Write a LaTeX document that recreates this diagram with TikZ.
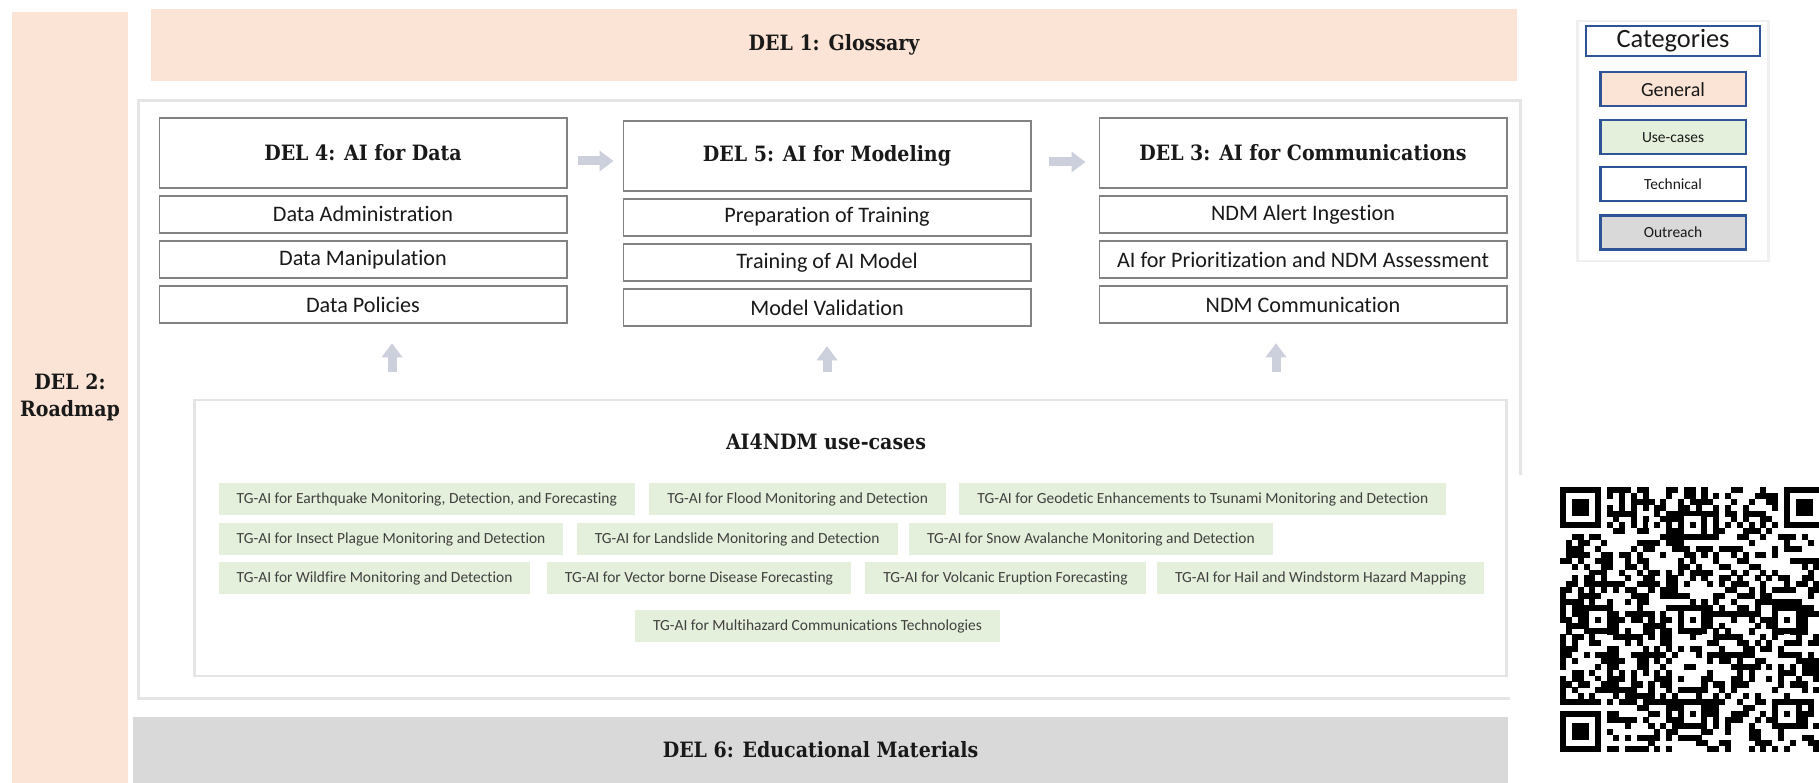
\documentclass[tikz,border=0pt]{standalone}
\usepackage{fontspec}
\setmainfont{Carlito}[Ligatures=NoCommon]
\newfontfamily\slabfont{DejaVu Serif Condensed}
\usetikzlibrary{arrows.meta, positioning}
\definecolor{peach}{RGB}{251,228,213}
\definecolor{usegreen}{RGB}{228,240,219}
\definecolor{outgray}{RGB}{217,217,217}
\definecolor{boxgray}{RGB}{130,130,130}
\definecolor{legblue}{RGB}{47,84,150}
\definecolor{faint}{RGB}{204,207,220}
\definecolor{dark}{RGB}{25,25,25}

\begin{document}
\begin{tikzpicture}[
    x=0.01cm, y=0.01cm,
    band/.style={rectangle, inner sep=0pt, text=dark, font=\slabfont\bfseries\fontsize{6}{7.5}\selectfont},
    hdr/.style={rectangle, draw=boxgray, line width=0.5pt, fill=white, minimum width=4.07cm, minimum height=0.70cm, inner sep=0pt, text=dark, font=\slabfont\bfseries\fontsize{6}{7}\selectfont},
    sub/.style={rectangle, draw=boxgray, line width=0.5pt, fill=white, minimum width=4.07cm, minimum height=0.37cm, inner sep=0pt, text=dark, font=\fontsize{6.3}{7}\selectfont},
    tag/.style={rectangle, fill=usegreen, minimum height=0.32cm, inner xsep=0.18cm, inner ysep=0pt, text=black!75, font=\fontsize{4.4}{5}\selectfont},
    leg/.style={rectangle, draw=legblue, line width=0.6pt, minimum width=1.45cm, minimum height=0.34cm, inner sep=0pt, text=dark, font=\fontsize{4.4}{5}\selectfont},
    frame/.style={rectangle, draw=gray!20, line width=0.8pt, inner sep=0pt},
    fatarr/.style={-{Triangle[length=0.14cm, width=0.2cm]}, line width=0.09cm, faint},
]
\useasboundingbox (0,0) rectangle (1819,-783);
\fill[white] (0,0) rectangle (1819,-783);

% General bands
\node[band, fill=peach, minimum width=1.16cm, minimum height=7.71cm, align=center] (del2) at (70,-397.5) {DEL 2:\\Roadmap};
\node[band, fill=peach, minimum width=13.66cm, minimum height=0.72cm] (del1) at (834,-45) {DEL 1: Glossary};
\node[frame, minimum width=13.81cm, minimum height=5.97cm] (main) at (829.5,-399.5) {};
\node[band, fill=outgray, minimum width=13.75cm, minimum height=0.66cm] (del6) at (820.5,-750) {DEL 6: Educational Materials};

% Technical deliverables
\node[hdr] (d4) at (363,-153) {DEL 4: AI for Data};
\node[sub, below=0.06cm of d4] (da) {Data Administration};
\node[sub, below=0.065cm of da] (dm) {Data Manipulation};
\node[sub, below=0.065cm of dm] (dp) {Data Policies};

\node[hdr] (d5) at (827,-156) {DEL 5: AI for Modeling};
\node[sub, below=0.06cm of d5] (pt) {Preparation of Training};
\node[sub, below=0.065cm of pt] (ta) {Training of AI Model};
\node[sub, below=0.065cm of ta] (mv) {Model Validation};

\node[hdr] (d3) at (1303,-153) {DEL 3: AI for Communications};
\node[sub, below=0.06cm of d3] (ai) {NDM Alert Ingestion};
\node[sub, below=0.065cm of ai] (pa) {AI for Prioritization and NDM Assessment};
\node[sub, below=0.065cm of pa] (nc) {NDM Communication};

% Use-cases
\node[frame, minimum width=13.11cm, minimum height=2.76cm] (uc) at (850.5,-538) {};
\node[band] (uctitle) at (826,-442) {AI4NDM use-cases};
\node[tag, anchor=west] (eq) at (218,-499) {TG-AI for Earthquake Monitoring, Detection, and Forecasting};
\node[tag, right=0.13cm of eq] (fl) {TG-AI for Flood Monitoring and Detection};
\node[tag, right=0.12cm of fl] (ge) {TG-AI for Geodetic Enhancements to Tsunami Monitoring and Detection};
\node[tag, anchor=west] (ip) at (218,-539) {TG-AI for Insect Plague Monitoring and Detection};
\node[tag, right=0.12cm of ip] (ls) {TG-AI for Landslide Monitoring and Detection};
\node[tag, right=0.1cm of ls] (sa) {TG-AI for Snow Avalanche Monitoring and Detection};
\node[tag, anchor=west] (wf) at (218,-578) {TG-AI for Wildfire Monitoring and Detection};
\node[tag, right=0.15cm of wf] (vb) {TG-AI for Vector borne Disease Forecasting};
\node[tag, right=0.13cm of vb] (ve) {TG-AI for Volcanic Eruption Forecasting};
\node[tag, right=0.1cm of ve] (hw) {TG-AI for Hail and Windstorm Hazard Mapping};
\node[tag] (mh) at (817.5,-626) {TG-AI for Multihazard Communications Technologies};

% Flow
\draw[fatarr, shorten <=0.1cm, shorten >=0.09cm] ([yshift=-0.08cm]d4.east) -- ([yshift=-0.08cm]d4.east -| d5.west);
\draw[fatarr, shorten <=0.17cm, shorten >=0.13cm] ([yshift=-0.06cm]d5.east) -- ([yshift=-0.06cm]d5.east -| d3.west);
\draw[fatarr, shorten <=0.26cm, shorten >=0.19cm] ([xshift=0.29cm]dp.south |- uc.north) -- ([xshift=0.29cm]dp.south);
\draw[fatarr, shorten <=0.26cm, shorten >=0.19cm] (mv.south |- uc.north) -- (mv.south);
\draw[fatarr, shorten <=0.26cm, shorten >=0.19cm] ([xshift=-0.27cm]nc.south |- uc.north) -- ([xshift=-0.27cm]nc.south);

% Legend
\node[frame, draw=gray!12, minimum width=1.91cm, minimum height=2.40cm] (legend) at (1673,-141) {};
\node[leg, minimum width=1.74cm, minimum height=0.30cm, font=\fontsize{7.5}{9}\selectfont] (cat) at (1673,-41) {Categories};
\node[leg, fill=peach, below=0.14cm of cat, font=\fontsize{5.7}{7}\selectfont] (gen) {General};
\node[leg, fill=usegreen, below=0.12cm of gen] (usec) {Use-cases};
\node[leg, fill=white, below=0.11cm of usec] (tech) {Technical};
\node[leg, fill=outgray, below=0.12cm of tech] (outr) {Outreach};

% QR code
\fill[white] (1510,-475) rectangle (1819,-783);
\begin{scope}[shift={(1560,-487)}, x=0.0589cm, y=-0.0589cm]
  \pgfmathsetseed{42}
  \foreach \i in {0,...,44} {
    \foreach \j in {0,...,44} {
      \pgfmathparse{rnd}
      \ifdim\pgfmathresult pt<0.48pt \fill (\i,\j) rectangle ++(1.03,1.03); \fi
    }
  }
  \foreach \k in {8,10,...,36} {\fill (\k,6) rectangle ++(1,1); \fill (6,\k) rectangle ++(1,1);}
  \foreach \k in {9,11,...,35} {\fill[white] (\k,6) rectangle ++(1,1); \fill[white] (6,\k) rectangle ++(1,1);}
  \foreach \cx/\cy in {0/0,38/0,0/38} {
    \fill[white] (\cx-1,\cy-1) rectangle ++(9,9);
    \fill (\cx,\cy) rectangle ++(7,7);
    \fill[white] (\cx+1,\cy+1) rectangle ++(5,5);
    \fill (\cx+2,\cy+2) rectangle ++(3,3);
  }
  \foreach \ax/\ay in {6/22,22/6,22/22,22/38,38/22,38/38} {
    \fill (\ax-2,\ay-2) rectangle ++(5,5);
    \fill[white] (\ax-1,\ay-1) rectangle ++(3,3);
    \fill (\ax,\ay) rectangle ++(1,1);
  }
\end{scope}

\end{tikzpicture}
\end{document}
